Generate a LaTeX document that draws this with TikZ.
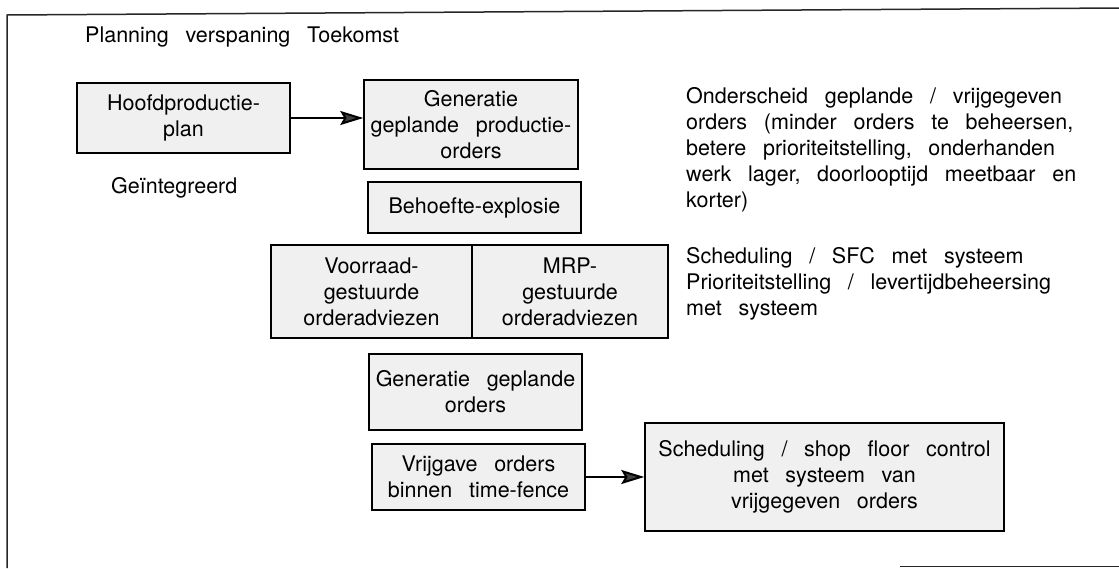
\documentclass[tikz,border=0pt]{standalone}
\usepackage{fontspec}
\setmainfont{TeX Gyre Heros}[WordSpace={2.8,0,0}]
\usetikzlibrary{arrows.meta}
\tikzset{
  box/.style={draw=black, line width=1.4pt, fill=black!6, inner sep=0pt,
    align=center, font=\fontsize{21.5}{26}\selectfont},
  txt/.style={inner sep=0pt, align=left, anchor=base west,
    font=\fontsize{21.5}{26}\selectfont},
  flow/.style={line width=2pt, -{Stealth[length=23pt,width=14pt,inset=4pt,fill=black!75]}},
  frame/.style={line width=1.5pt, black!85}
}
\begin{document}
\begin{tikzpicture}[x=1pt,y=-1pt]
\useasboundingbox (0,0) rectangle (1119,568);
% outer frame (open at the right and mostly at the bottom)
\coordinate (fTL) at (7,15);
\coordinate (fTR) at (1119,8);
\coordinate (fBL) at (7,568);
\coordinate (fB1) at (900,566.5);
\coordinate (fB2) at (1119,566.5);
\draw[frame] (fBL) -- (fTL) -- (fTR);
\draw[frame] (fB1) -- (fB2);

\node[txt] (title) at (85,42) {Planning verspaning Toekomst};

% flow boxes
\node[box, minimum width=213pt, minimum height=70pt] (hpp) at (183.5,118) {Hoofdproductie-\\plan};
\node[txt] (integ) at (111,193) {Geïntegreerd};
\node[box, minimum width=214pt, minimum height=89pt] (gen1) at (471,124.5) {Generatie\\geplande productie-\\orders};
\node[box, minimum width=213pt, minimum height=51pt] (behoefte) at (474.5,207.5) {Behoefte-explosie};
\node[box, minimum width=201pt, minimum height=93pt] (voorraad) at (371.5,291.5) {Voorraad-\\gestuurde\\orderadviezen};
\node[box, minimum width=196pt, minimum height=93pt] (mrp) at (570,291.5) {MRP-\\gestuurde\\orderadviezen};
\node[box, minimum width=213pt, minimum height=76pt] (gen2) at (475.5,392) {Generatie geplande\\orders};
\node[box, minimum width=213pt, minimum height=66pt] (vrij) at (478.5,477) {Vrijgave orders\\binnen time-fence};
\node[box, minimum width=359pt, minimum height=108pt] (sched) at (824.5,477) {Scheduling / shop floor control\\met systeem van\\vrijgegeven orders};

% connectors
\draw[flow] (hpp.east) -- (hpp.east -| gen1.west);
\draw[flow] (vrij.east) -- (vrij.east -| sched.west);

% notes on the right (anchored at the baseline of their last line)
\node[txt] (note1) at (686,207) {Onderscheid geplande / vrijgegeven\\orders (minder orders te beheersen,\\betere prioriteitstelling, onderhanden\\werk lager, doorlooptijd meetbaar en\\korter)};
\node[txt] (note2) at (686,315) {Scheduling / SFC met systeem\\Prioriteitstelling / levertijdbeheersing\\met systeem};
\end{tikzpicture}
\end{document}
